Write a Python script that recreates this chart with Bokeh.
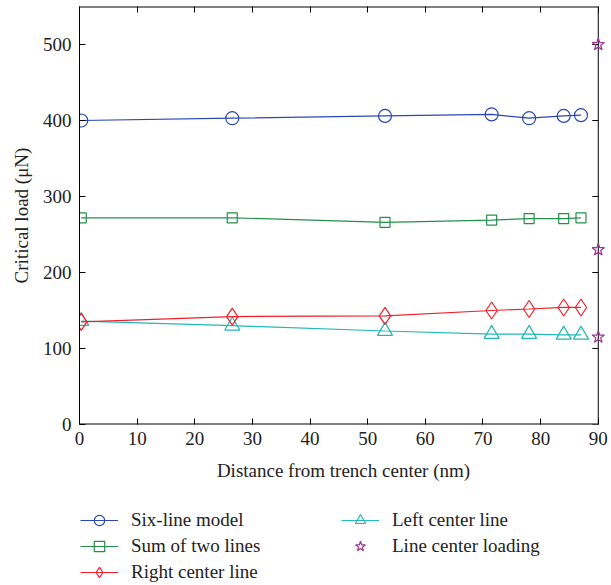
import math
from bokeh.plotting import figure
from bokeh.layouts import column
from bokeh.models import Legend, LegendItem, LinearAxis, Range1d, FixedTicker
from bokeh.embed import file_html
from bokeh.resources import INLINE

# Data
x_pos = [0.3, 26.5, 53.0, 71.5, 78.0, 84.0, 87.0]
six_line = [400, 403, 406, 408, 403, 406, 407]
sum_two = [272, 272, 266, 269, 271, 271, 272]
right_center = [135, 142, 143, 150, 152, 154, 154]
left_center_x = [0.3, 26.5, 53.0, 71.5, 78.0, 84.0, 87.0]
left_center = [136, 130, 123, 119, 119, 118, 118]
star_x = [90, 90, 90]
star_y = [500, 230, 115]

series_labels = ["Six-line model", "Sum of two lines", "Right center line",
                 "Left center line", "Line center loading"]

x_ticks = [0, 10, 20, 30, 40, 50, 60, 70, 80, 90]
y_ticks = [0, 100, 200, 300, 400, 500]
X_MAX = 90
Y_MAX = 550

FONT = "Liberation Serif"
FS = "19px"
TXT = "#222222"

c_blue = "#2b48b0"
c_green = "#23904a"
c_red = "#f0202a"
c_cyan = "#22b8b8"
c_mag = "#a0339a"

p = figure(width=611, height=490, output_backend="svg", toolbar_location=None,
           x_range=Range1d(0, 91.6), y_range=Range1d(0, Y_MAX),
           min_border_left=79, min_border_right=4, min_border_top=6, min_border_bottom=66)
p.xgrid.visible = False
p.ygrid.visible = False
p.outline_line_color = None
p.background_fill_color = "white"
p.border_fill_color = "white"

for ax in (p.xaxis[0], p.yaxis[0]):
    ax.major_label_text_font = FONT
    ax.major_label_text_font_size = FS
    ax.major_label_text_color = TXT
    ax.axis_label_text_font = FONT
    ax.axis_label_text_font_size = FS
    ax.axis_label_text_font_style = "normal"
    ax.axis_label_text_color = TXT
    ax.major_tick_in = 6
    ax.major_tick_out = 0
    ax.minor_tick_line_color = None
    ax.axis_line_color = "black"

p.xaxis[0].ticker = FixedTicker(ticks=x_ticks)
p.yaxis[0].ticker = FixedTicker(ticks=y_ticks)
p.xaxis[0].axis_label = "Distance from trench center (nm)"
p.yaxis[0].axis_label = "Critical load (\u03bcN)"
p.xaxis[0].major_label_standoff = 7
p.xaxis[0].axis_label_standoff = 12
p.yaxis[0].major_label_standoff = 8
p.yaxis[0].axis_label_standoff = 8
p.xaxis[0].axis_line_color = None

top = LinearAxis(ticker=FixedTicker(ticks=x_ticks), major_label_text_font_size="0px",
                 major_tick_in=6, major_tick_out=0, minor_tick_line_color=None,
                 axis_line_color=None)
top.major_label_text_color = None
p.add_layout(top, "above")

# box border (bottom, top, right) ending at x = 90
p.segment(x0=[0, 0], y0=[0, Y_MAX], x1=[X_MAX, X_MAX], y1=[0, Y_MAX],
          line_color="black", line_width=2)
p.segment(x0=[X_MAX], y0=[0], x1=[X_MAX], y1=[Y_MAX], line_color="black", line_width=1)
# right inward ticks
p.ray(x=[X_MAX] * len(y_ticks), y=y_ticks, length=6, length_units="screen", angle=math.pi,
      line_color="black", line_width=1)

mk = dict(fill_color=None, line_width=1.2)
specs = [
    (x_pos, six_line, "circle", 13, c_blue, True),
    (x_pos, sum_two, "square", 10, c_green, True),
    (x_pos, right_center, "diamond", 17, c_red, True),
    (left_center_x, left_center, "triangle", 15, c_cyan, True),
    (star_x, star_y, "star", 13, c_mag, False),
]
draw_order = [0, 1, 3, 2, 4]
for i in draw_order:
    xs, ys, marker, size, col, has_line = specs[i]
    if has_line:
        p.line(xs, ys, color=col, line_width=1.2)
    p.scatter(xs, ys, marker=marker, size=size, line_color=col, **mk)

# legend panel below the plot (its renderers use the same data, which lies outside this panel's ranges)
q = figure(width=611, height=95, output_backend="svg", toolbar_location=None,
           x_range=Range1d(-2, -1), y_range=Range1d(-2, -1),
           x_axis_type=None, y_axis_type=None,
           min_border_left=0, min_border_right=0, min_border_top=0, min_border_bottom=0)
q.xgrid.visible = False
q.ygrid.visible = False
q.outline_line_color = None
q.background_fill_color = "white"
q.border_fill_color = "white"

items = []
for label, (xs, ys, marker, size, col, has_line) in zip(series_labels, specs):
    rs = []
    if has_line:
        rs.append(q.line(xs, ys, color=col, line_width=1.2))
    rs.append(q.scatter(xs, ys, marker=marker, size=size, line_color=col, **mk))
    items.append(LegendItem(label=label, renderers=rs, index=0))

legend = Legend(items=items, nrows=3, location=(1, 0))
legend.label_text_font = FONT
legend.label_text_font_size = FS
legend.label_text_color = TXT
legend.border_line_color = None
legend.background_fill_alpha = 0
legend.glyph_width = 38
legend.glyph_height = 26
legend.spacing = 0
legend.label_standoff = 13
legend.padding = 0
legend.margin = 0
legend.label_height = 20
legend.label_width = 210
q.add_layout(legend, "center")

layout = column(p, q, spacing=0)
open("out.html", "w").write(file_html(layout, INLINE))
